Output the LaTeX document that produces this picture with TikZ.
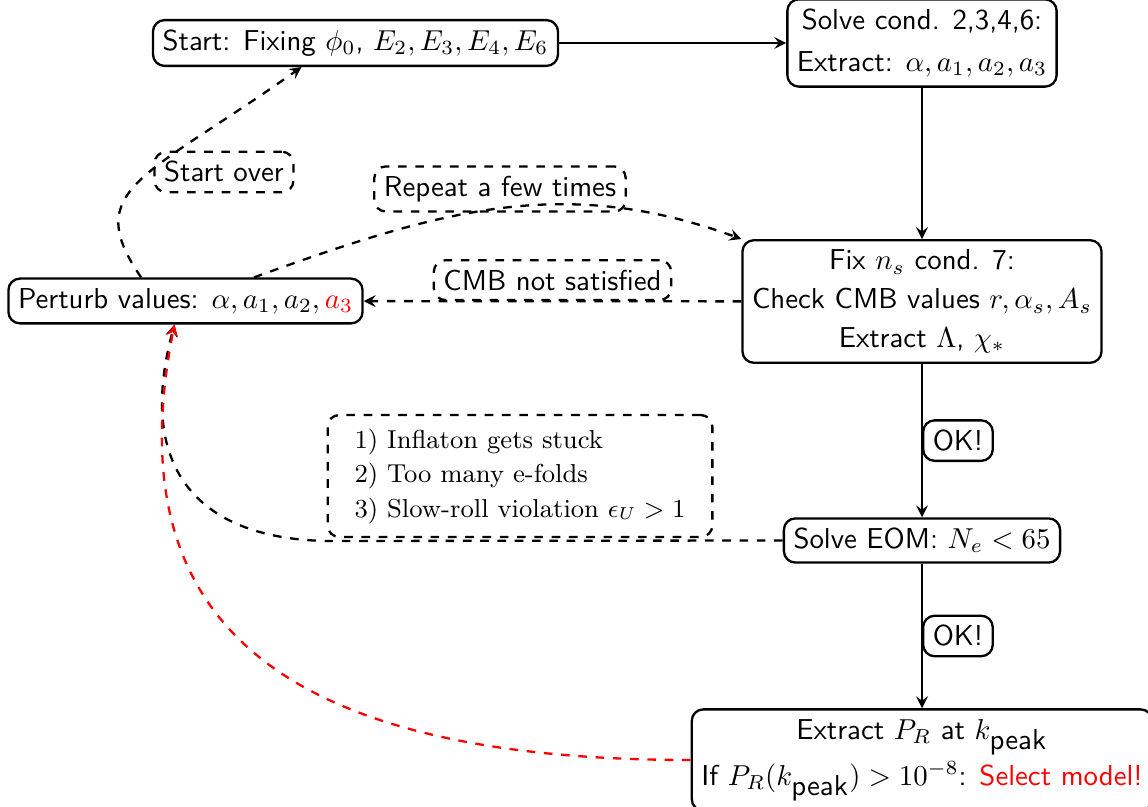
\documentclass[tikz,border=0pt]{standalone}
\usetikzlibrary{arrows}
\begin{document}
\begin{tikzpicture}[x=0.347pt,y=-0.347pt,
  box/.style={draw, thick, rounded corners=4pt, font=\sffamily, align=center},
  lbl/.style={draw, thick, dashed, rounded corners=4pt, font=\sffamily},
  okbox/.style={draw, thick, rounded corners=4pt, font=\sffamily},
  arr/.style={thick, -stealth},
  darr/.style={thick, dashed, -stealth}]
\useasboundingbox (0,0) rectangle (1148,807);

\node[box] (start) at (355.5,43) {Start: Fixing $\phi_0$, $E_2,E_3,E_4,E_6$};
\node[box] (solve) at (922,43) {Solve cond. 2,3,4,6:\\[2.5pt] Extract: $\alpha,a_1,a_2,a_3$};
\node[box] (fix) at (922,301.5) {Fix $n_s$ cond. 7:\\[1.5pt] Check CMB values $r,\alpha_s,A_s$\\[1.5pt] Extract $\Lambda$, $\chi_*$};
\node[box] (perturb) at (185.5,301) {Perturb values: $\alpha,a_1,a_2,{\color{red}a_3}$};
\node[box] (eom) at (922,540.5) {Solve EOM: $N_e<65$};
\node[box] (extract) at (922,760) {Extract $P_R$ at $k_{\textsf{peak}}$\\[1.5pt] If $P_R(k_{\textsf{peak}})>10^{-8}$: \textcolor{red}{Select model!}};

\node[lbl] (so) at (224,172) {Start over};
\node[lbl] (rep) at (500,189) {Repeat a few times};
\node[lbl, font=\rmfamily\small] (why) at (520,476) {\renewcommand{\arraystretch}{1.08}\begin{tabular}{l}1) Inflaton gets stuck\\ 2) Too many e-folds\\ 3) Slow-roll violation $\epsilon_U>1$\end{tabular}};

\coordinate (bend) at (330,541);
\coordinate (pin) at (perturb.245.5);

\draw[arr] (start) -- (solve);
\draw[arr] (solve) -- (fix);
\draw[darr] (fix) -- node[lbl, above] (cmb) {CMB not satisfied} (perturb);
\draw[arr] (fix) -- node[okbox, right] (ok1) {OK!} (eom);
\draw[arr] (eom) -- node[okbox, right] (ok2) {OK!} (extract);
\draw[darr] (perturb.152) .. controls (80,189) and (145,178) .. (start.204.8);
\draw[darr] (perturb.19) .. controls (435,212) and (561,173) .. (fix.north west);
\draw[darr] (eom.west) -- (bend) .. controls (200,540) and (135,470) .. (pin);
\draw[darr, red] (extract.west) .. controls (250,760) and (120,600) .. (pin);
\end{tikzpicture}
\end{document}
